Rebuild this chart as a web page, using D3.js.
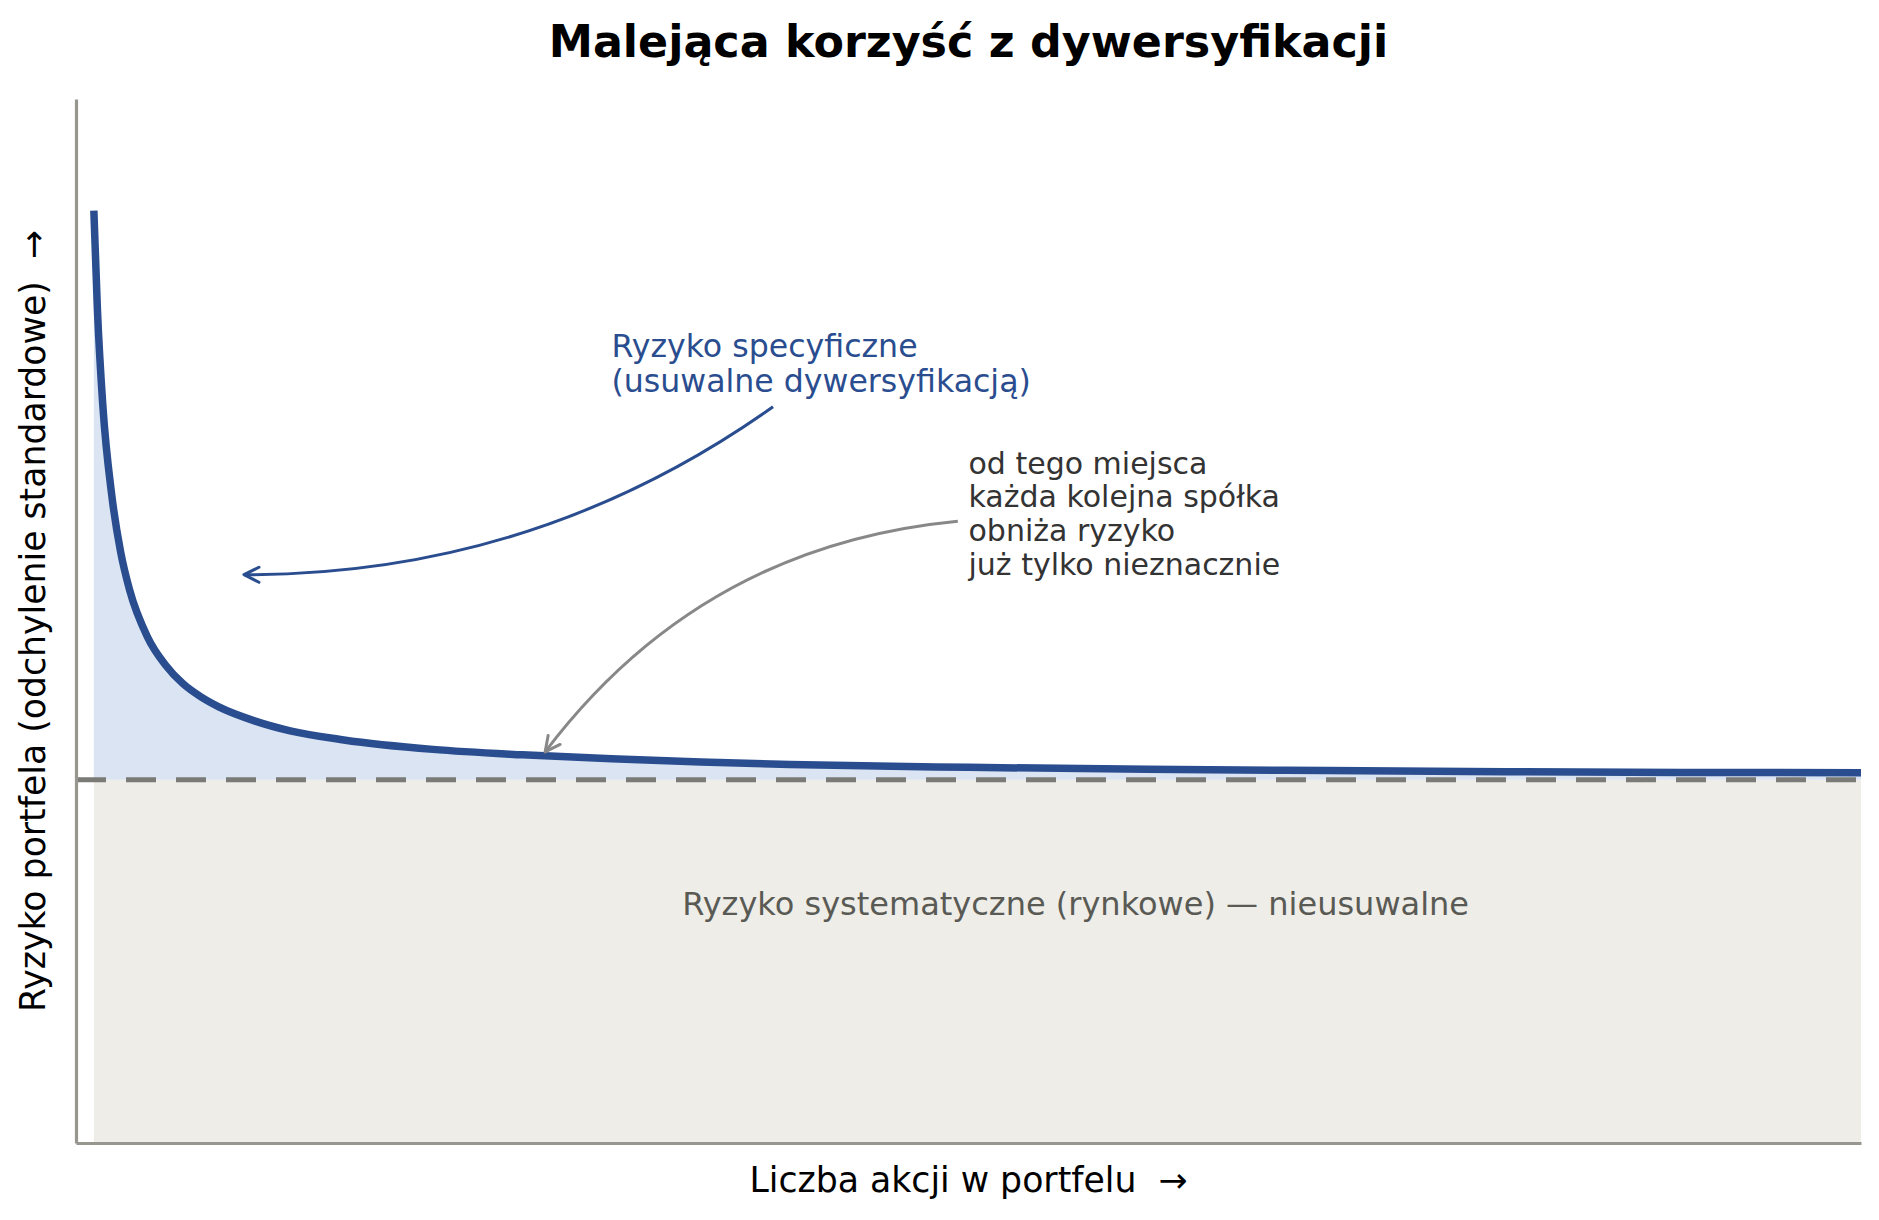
<!DOCTYPE html>
<html>
<head>
<meta charset="utf-8">
<script src="https://cdn.jsdelivr.net/npm/d3@7"></script>
<style>
  body { margin: 0; background: #fff; }
  svg { display: block; }
  text { font-family: "DejaVu Sans", sans-serif; }
</style>
</head>
<body>
<div id="chart"></div>
<script>
// liczba spółek w portfelu i odczytane ryzyko portfela (jednostki umowne)
var stockCounts = [1, 1.2, 1.5, 2, 2.5, 3, 4, 5, 6, 7, 8, 10, 12, 15, 20, 25, 30, 35, 40, 50, 60, 70, 80, 90, 100];
var portfolioRisk = [51.35, 45.9, 40.66, 35.7, 32.56, 30.47, 27.88, 26.34, 25.29, 24.57, 24.02, 23.25, 22.7, 22.2,
    21.68, 21.38, 21.16, 20.99, 20.85, 20.69, 20.58, 20.51, 20.45, 20.41, 20.39];
var systematicRisk = 20;

var titleText = "Malejąca korzyść z dywersyfikacji";
var xLabel = "Liczba akcji w portfelu  →";
var yLabel = "Ryzyko portfela (odchylenie standardowe)  →";
var specificLines = ["Ryzyko specyficzne", "(usuwalne dywersyfikacją)"];
var noteLines = ["od tego miejsca", "każda kolejna spółka", "obniża ryzyko", "już tylko nieznacznie"];
var systematicText = "Ryzyko systematyczne (rynkowe) — nieusuwalne";

var width = 1879,
    height = 1220,
    margin = {top: 99, right: 18, bottom: 77, left: 76};

var blue = "#2a4d8f";

var data = stockCounts.map(function (n, i) {
    return {n: n, risk: portfolioRisk[i]};
});

var x = d3.scaleLinear().domain([0, 100]).range([margin.left, width - margin.right]);
var y = d3.scaleLinear().domain([0, 57.5]).range([height - margin.bottom, margin.top]);

var svg = d3.select("#chart")
    .append("svg")
    .attr("width", width)
    .attr("height", height);

// obszar ryzyka systematycznego
svg.append("path")
    .datum(data)
    .attr("fill", "#eeede8")
    .attr("d", d3.area()
        .x(function (d) { return x(d.n); })
        .y0(y(0))
        .y1(y(systematicRisk)));

// obszar ryzyka specyficznego
svg.append("path")
    .datum(data)
    .attr("fill", "#dbe4f2")
    .attr("d", d3.area()
        .curve(d3.curveMonotoneX)
        .x(function (d) { return x(d.n); })
        .y0(y(systematicRisk))
        .y1(function (d) { return y(d.risk); }));

svg.append("line")
    .attr("x1", x(0))
    .attr("x2", x(100))
    .attr("y1", y(systematicRisk))
    .attr("y2", y(systematicRisk))
    .attr("stroke", "#7a7a76")
    .attr("stroke-width", 5)
    .attr("stroke-dasharray", "30,20");

svg.append("path")
    .datum(data)
    .attr("fill", "none")
    .attr("stroke", blue)
    .attr("stroke-width", 7.5)
    .attr("d", d3.line()
        .curve(d3.curveMonotoneX)
        .x(function (d) { return x(d.n); })
        .y(function (d) { return y(d.risk); }));

// osie bez podziałek
svg.append("g")
    .attr("transform", "translate(" + margin.left + ",0)")
    .call(d3.axisLeft(y).tickValues([]).tickSizeOuter(0));
svg.append("g")
    .attr("transform", "translate(0," + (height - margin.bottom) + ")")
    .call(d3.axisBottom(x).tickValues([]).tickSizeOuter(0));
svg.selectAll(".domain")
    .attr("stroke", "#979790")
    .attr("stroke-width", 3.2);

svg.append("text")
    .attr("x", (x(0) + x(100)) / 2)
    .attr("y", 57)
    .attr("text-anchor", "middle")
    .style("font-size", "44.4px")
    .style("font-weight", "bold")
    .text(titleText);

svg.append("text")
    .attr("x", (x(0) + x(100)) / 2)
    .attr("y", 1192)
    .attr("text-anchor", "middle")
    .style("font-size", "34.7px")
    .style("white-space", "pre")
    .text(xLabel);

svg.append("text")
    .attr("transform", "translate(45," + (y(0) + y(57.5)) / 2 + ") rotate(-90)")
    .attr("text-anchor", "middle")
    .style("font-size", "34.7px")
    .style("white-space", "pre")
    .text(yLabel);

svg.append("text")
    .attr("x", x(56))
    .attr("y", y(12.56))
    .attr("text-anchor", "middle")
    .attr("fill", "#5a5a55")
    .style("font-size", "32px")
    .text(systematicText);

function multiline(lines, px, py, step, size, color) {
    var t = svg.append("text")
        .attr("fill", color)
        .style("font-size", size + "px");
    t.selectAll("tspan")
        .data(lines)
        .enter().append("tspan")
        .attr("x", px)
        .attr("y", function (d, i) { return py + i * step; })
        .text(function (d) { return d; });
}

multiline(specificLines, x(30), y(43.3), 35, 31.6, blue);
multiline(noteLines, x(50), y(36.86), 33.6, 30, "#333333");

// strzałki w stylu arc3
function arrow(from, to, rad, color) {
    var x1 = x(from[0]), y1 = y(from[1]),
        x2 = x(to[0]), y2 = y(to[1]);
    var cx = (x1 + x2) / 2 + rad * (y2 - y1),
        cy = (y1 + y2) / 2 - rad * (x2 - x1);
    svg.append("path")
        .attr("fill", "none")
        .attr("stroke", color)
        .attr("stroke-width", 3)
        .attr("d", "M" + x1 + "," + y1 + "Q" + cx + "," + cy + " " + x2 + "," + y2);
    var dx = x2 - cx, dy = y2 - cy, len = Math.sqrt(dx * dx + dy * dy);
    var ux = dx / len, uy = dy / len;
    var hl = 15, hw = 7.5;
    svg.append("path")
        .attr("fill", "none")
        .attr("stroke", color)
        .attr("stroke-width", 3)
        .attr("stroke-linecap", "round")
        .attr("stroke-linejoin", "round")
        .attr("d", "M" + (x2 - hl * ux - hw * uy) + "," + (y2 - hl * uy + hw * ux) +
            "L" + x2 + "," + y2 +
            "L" + (x2 - hl * ux + hw * uy) + "," + (y2 - hl * uy - hw * ux));
}

arrow([39.05, 40.55], [9.41, 31.3], 0.16, blue);
arrow([49.4, 34.25], [26.28, 21.54], -0.22, "#888888");
</script>
</body>
</html>
